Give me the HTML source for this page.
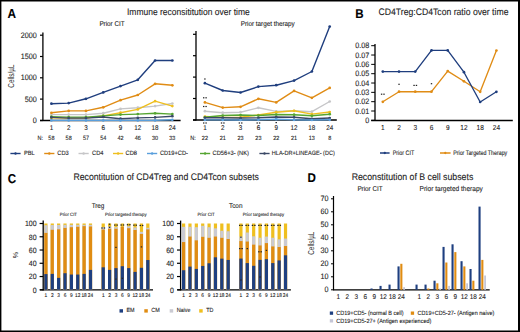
<!DOCTYPE html>
<html><head><meta charset="utf-8"><style>
html,body{margin:0;padding:0;background:#fff;width:520px;height:332px;overflow:hidden}
svg{display:block}
#wrap{}
text{font-family:"Liberation Sans", sans-serif;text-rendering:geometricPrecision}
</style></head><body><div id="wrap">
<svg width="520" height="332" viewBox="0 0 520 332">
<rect width="520" height="332" fill="#fff"/>
<rect x="0.00" y="0.00" width="520.00" height="1.50" fill="#000" />
<rect x="0.00" y="0.00" width="1.40" height="332.00" fill="#000" />
<rect x="518.00" y="0.00" width="2.00" height="332.00" fill="#000" />
<rect x="0.00" y="330.50" width="520.00" height="1.50" fill="#000" />
<text x="7.50" y="18.00" transform="translate(7.50,0) scale(0.9091,1) translate(-7.50,0)" font-size="12.98" text-anchor="start" fill="#000" stroke="#000" stroke-width="0.1" font-weight="bold" >A</text>
<text x="127.00" y="15.40" transform="translate(127.00,0) scale(0.9091,1) translate(-127.00,0)" font-size="9.35" text-anchor="start" fill="#222" stroke="#222" stroke-width="0.1" font-weight="normal" >Immune reconsititution over time</text>
<text x="112.00" y="26.00" transform="translate(112.00,0) scale(0.9091,1) translate(-112.00,0)" font-size="6.93" text-anchor="middle" fill="#222" stroke="#222" stroke-width="0.1" font-weight="normal" >Prior CIT</text>
<text x="267.70" y="26.00" transform="translate(267.70,0) scale(0.9091,1) translate(-267.70,0)" font-size="6.93" text-anchor="middle" fill="#222" stroke="#222" stroke-width="0.1" font-weight="normal" >Prior target therapy</text>
<line x1="42.90" y1="32.40" x2="42.90" y2="121.10" stroke="#000" stroke-width="1.3"/>
<line x1="40.00" y1="120.50" x2="180.60" y2="120.50" stroke="#000" stroke-width="1.3"/>
<line x1="40.00" y1="35.20" x2="42.90" y2="35.20" stroke="#000" stroke-width="1.2"/>
<text x="36.80" y="37.75" transform="translate(36.80,0) scale(0.9091,1) translate(-36.80,0)" font-size="7.92" text-anchor="end" fill="#222" stroke="#222" stroke-width="0.1" font-weight="normal" >2000</text>
<line x1="40.00" y1="56.50" x2="42.90" y2="56.50" stroke="#000" stroke-width="1.2"/>
<text x="36.80" y="59.05" transform="translate(36.80,0) scale(0.9091,1) translate(-36.80,0)" font-size="7.92" text-anchor="end" fill="#222" stroke="#222" stroke-width="0.1" font-weight="normal" >1500</text>
<line x1="40.00" y1="77.80" x2="42.90" y2="77.80" stroke="#000" stroke-width="1.2"/>
<text x="36.80" y="80.35" transform="translate(36.80,0) scale(0.9091,1) translate(-36.80,0)" font-size="7.92" text-anchor="end" fill="#222" stroke="#222" stroke-width="0.1" font-weight="normal" >1000</text>
<line x1="40.00" y1="99.10" x2="42.90" y2="99.10" stroke="#000" stroke-width="1.2"/>
<text x="36.80" y="101.65" transform="translate(36.80,0) scale(0.9091,1) translate(-36.80,0)" font-size="7.92" text-anchor="end" fill="#222" stroke="#222" stroke-width="0.1" font-weight="normal" >500</text>
<line x1="40.00" y1="120.50" x2="42.90" y2="120.50" stroke="#000" stroke-width="1.2"/>
<text x="36.80" y="123.05" transform="translate(36.80,0) scale(0.9091,1) translate(-36.80,0)" font-size="7.92" text-anchor="end" fill="#222" stroke="#222" stroke-width="0.1" font-weight="normal" >0</text>
<text transform="translate(13.9,76.1) rotate(-90) scale(0.74,1)" font-size="8.6" text-anchor="middle" fill="#222">Cells/µL</text>
<text x="51.40" y="129.70" transform="translate(51.40,0) scale(0.9091,1) translate(-51.40,0)" font-size="6.93" text-anchor="middle" fill="#222" stroke="#222" stroke-width="0.1" font-weight="normal" >1</text>
<text x="68.68" y="129.70" transform="translate(68.68,0) scale(0.9091,1) translate(-68.68,0)" font-size="6.93" text-anchor="middle" fill="#222" stroke="#222" stroke-width="0.1" font-weight="normal" >2</text>
<text x="85.96" y="129.70" transform="translate(85.96,0) scale(0.9091,1) translate(-85.96,0)" font-size="6.93" text-anchor="middle" fill="#222" stroke="#222" stroke-width="0.1" font-weight="normal" >3</text>
<text x="103.24" y="129.70" transform="translate(103.24,0) scale(0.9091,1) translate(-103.24,0)" font-size="6.93" text-anchor="middle" fill="#222" stroke="#222" stroke-width="0.1" font-weight="normal" >6</text>
<text x="120.52" y="129.70" transform="translate(120.52,0) scale(0.9091,1) translate(-120.52,0)" font-size="6.93" text-anchor="middle" fill="#222" stroke="#222" stroke-width="0.1" font-weight="normal" >9</text>
<text x="137.80" y="129.70" transform="translate(137.80,0) scale(0.9091,1) translate(-137.80,0)" font-size="6.93" text-anchor="middle" fill="#222" stroke="#222" stroke-width="0.1" font-weight="normal" >12</text>
<text x="155.08" y="129.70" transform="translate(155.08,0) scale(0.9091,1) translate(-155.08,0)" font-size="6.93" text-anchor="middle" fill="#222" stroke="#222" stroke-width="0.1" font-weight="normal" >18</text>
<text x="172.36" y="129.70" transform="translate(172.36,0) scale(0.9091,1) translate(-172.36,0)" font-size="6.93" text-anchor="middle" fill="#222" stroke="#222" stroke-width="0.1" font-weight="normal" >24</text>
<text x="43.00" y="140.30" transform="translate(43.00,0) scale(0.9091,1) translate(-43.00,0)" font-size="6.05" text-anchor="end" fill="#222" stroke="#222" stroke-width="0.1" font-weight="normal" >N:</text>
<text x="51.40" y="140.30" transform="translate(51.40,0) scale(0.9091,1) translate(-51.40,0)" font-size="6.05" text-anchor="middle" fill="#222" stroke="#222" stroke-width="0.1" font-weight="normal" >58</text>
<text x="68.68" y="140.30" transform="translate(68.68,0) scale(0.9091,1) translate(-68.68,0)" font-size="6.05" text-anchor="middle" fill="#222" stroke="#222" stroke-width="0.1" font-weight="normal" >58</text>
<text x="85.96" y="140.30" transform="translate(85.96,0) scale(0.9091,1) translate(-85.96,0)" font-size="6.05" text-anchor="middle" fill="#222" stroke="#222" stroke-width="0.1" font-weight="normal" >57</text>
<text x="103.24" y="140.30" transform="translate(103.24,0) scale(0.9091,1) translate(-103.24,0)" font-size="6.05" text-anchor="middle" fill="#222" stroke="#222" stroke-width="0.1" font-weight="normal" >54</text>
<text x="120.52" y="140.30" transform="translate(120.52,0) scale(0.9091,1) translate(-120.52,0)" font-size="6.05" text-anchor="middle" fill="#222" stroke="#222" stroke-width="0.1" font-weight="normal" >42</text>
<text x="137.80" y="140.30" transform="translate(137.80,0) scale(0.9091,1) translate(-137.80,0)" font-size="6.05" text-anchor="middle" fill="#222" stroke="#222" stroke-width="0.1" font-weight="normal" >46</text>
<text x="155.08" y="140.30" transform="translate(155.08,0) scale(0.9091,1) translate(-155.08,0)" font-size="6.05" text-anchor="middle" fill="#222" stroke="#222" stroke-width="0.1" font-weight="normal" >30</text>
<text x="172.36" y="140.30" transform="translate(172.36,0) scale(0.9091,1) translate(-172.36,0)" font-size="6.05" text-anchor="middle" fill="#222" stroke="#222" stroke-width="0.1" font-weight="normal" >33</text>
<polyline points="51.40,114.60 68.68,114.60 85.96,114.60 103.24,113.20 120.52,108.90 137.80,107.70 155.08,106.10 172.36,103.50" fill="none" stroke="#c6c6c8" stroke-width="1.4" stroke-linejoin="round"/>
<circle cx="51.40" cy="114.60" r="1.35" fill="#c6c6c8"/>
<circle cx="68.68" cy="114.60" r="1.35" fill="#c6c6c8"/>
<circle cx="85.96" cy="114.60" r="1.35" fill="#c6c6c8"/>
<circle cx="103.24" cy="113.20" r="1.35" fill="#c6c6c8"/>
<circle cx="120.52" cy="108.90" r="1.35" fill="#c6c6c8"/>
<circle cx="137.80" cy="107.70" r="1.35" fill="#c6c6c8"/>
<circle cx="155.08" cy="106.10" r="1.35" fill="#c6c6c8"/>
<circle cx="172.36" cy="103.50" r="1.35" fill="#c6c6c8"/>
<polyline points="51.40,117.90 68.68,118.10 85.96,118.00 103.24,115.90 120.52,112.70 137.80,109.40 155.08,101.20 172.36,106.10" fill="none" stroke="#efbf1f" stroke-width="1.4" stroke-linejoin="round"/>
<circle cx="51.40" cy="117.90" r="1.35" fill="#efbf1f"/>
<circle cx="68.68" cy="118.10" r="1.35" fill="#efbf1f"/>
<circle cx="85.96" cy="118.00" r="1.35" fill="#efbf1f"/>
<circle cx="103.24" cy="115.90" r="1.35" fill="#efbf1f"/>
<circle cx="120.52" cy="112.70" r="1.35" fill="#efbf1f"/>
<circle cx="137.80" cy="109.40" r="1.35" fill="#efbf1f"/>
<circle cx="155.08" cy="101.20" r="1.35" fill="#efbf1f"/>
<circle cx="172.36" cy="106.10" r="1.35" fill="#efbf1f"/>
<polyline points="51.40,116.60 68.68,117.10 85.96,117.10 103.24,115.90 120.52,114.60 137.80,114.10 155.08,113.30 172.36,114.10" fill="none" stroke="#55a531" stroke-width="1.4" stroke-linejoin="round"/>
<circle cx="51.40" cy="116.60" r="1.35" fill="#55a531"/>
<circle cx="68.68" cy="117.10" r="1.35" fill="#55a531"/>
<circle cx="85.96" cy="117.10" r="1.35" fill="#55a531"/>
<circle cx="103.24" cy="115.90" r="1.35" fill="#55a531"/>
<circle cx="120.52" cy="114.60" r="1.35" fill="#55a531"/>
<circle cx="137.80" cy="114.10" r="1.35" fill="#55a531"/>
<circle cx="155.08" cy="113.30" r="1.35" fill="#55a531"/>
<circle cx="172.36" cy="114.10" r="1.35" fill="#55a531"/>
<polyline points="51.40,117.40 68.68,118.10 85.96,118.10 103.24,117.00 120.52,118.70 137.80,117.90 155.08,117.40 172.36,116.20" fill="none" stroke="#3b4866" stroke-width="1.4" stroke-linejoin="round"/>
<circle cx="51.40" cy="117.40" r="1.35" fill="#3b4866"/>
<circle cx="68.68" cy="118.10" r="1.35" fill="#3b4866"/>
<circle cx="85.96" cy="118.10" r="1.35" fill="#3b4866"/>
<circle cx="103.24" cy="117.00" r="1.35" fill="#3b4866"/>
<circle cx="120.52" cy="118.70" r="1.35" fill="#3b4866"/>
<circle cx="137.80" cy="117.90" r="1.35" fill="#3b4866"/>
<circle cx="155.08" cy="117.40" r="1.35" fill="#3b4866"/>
<circle cx="172.36" cy="116.20" r="1.35" fill="#3b4866"/>
<polyline points="51.40,120.40 68.68,120.40 85.96,120.40 103.24,120.40 120.52,120.40 137.80,120.40 155.08,120.40 172.36,119.80" fill="none" stroke="#5a9fdc" stroke-width="1.4" stroke-linejoin="round"/>
<circle cx="51.40" cy="120.40" r="1.35" fill="#5a9fdc"/>
<circle cx="68.68" cy="120.40" r="1.35" fill="#5a9fdc"/>
<circle cx="85.96" cy="120.40" r="1.35" fill="#5a9fdc"/>
<circle cx="103.24" cy="120.40" r="1.35" fill="#5a9fdc"/>
<circle cx="120.52" cy="120.40" r="1.35" fill="#5a9fdc"/>
<circle cx="137.80" cy="120.40" r="1.35" fill="#5a9fdc"/>
<circle cx="155.08" cy="120.40" r="1.35" fill="#5a9fdc"/>
<circle cx="172.36" cy="119.80" r="1.35" fill="#5a9fdc"/>
<polyline points="51.40,112.80 68.68,110.90 85.96,110.90 103.24,107.30 120.52,100.20 137.80,95.00 155.08,83.80 172.36,85.30" fill="none" stroke="#e08c15" stroke-width="1.4" stroke-linejoin="round"/>
<circle cx="51.40" cy="112.80" r="1.35" fill="#e08c15"/>
<circle cx="68.68" cy="110.90" r="1.35" fill="#e08c15"/>
<circle cx="85.96" cy="110.90" r="1.35" fill="#e08c15"/>
<circle cx="103.24" cy="107.30" r="1.35" fill="#e08c15"/>
<circle cx="120.52" cy="100.20" r="1.35" fill="#e08c15"/>
<circle cx="137.80" cy="95.00" r="1.35" fill="#e08c15"/>
<circle cx="155.08" cy="83.80" r="1.35" fill="#e08c15"/>
<circle cx="172.36" cy="85.30" r="1.35" fill="#e08c15"/>
<polyline points="51.40,103.70 68.68,103.10 85.96,98.80 103.24,92.40 120.52,86.10 137.80,79.80 155.08,60.50 172.36,60.50" fill="none" stroke="#1f3e7e" stroke-width="1.4" stroke-linejoin="round"/>
<circle cx="51.40" cy="103.70" r="1.35" fill="#1f3e7e"/>
<circle cx="68.68" cy="103.10" r="1.35" fill="#1f3e7e"/>
<circle cx="85.96" cy="98.80" r="1.35" fill="#1f3e7e"/>
<circle cx="103.24" cy="92.40" r="1.35" fill="#1f3e7e"/>
<circle cx="120.52" cy="86.10" r="1.35" fill="#1f3e7e"/>
<circle cx="137.80" cy="79.80" r="1.35" fill="#1f3e7e"/>
<circle cx="155.08" cy="60.50" r="1.35" fill="#1f3e7e"/>
<circle cx="172.36" cy="60.50" r="1.35" fill="#1f3e7e"/>
<line x1="196.00" y1="31.10" x2="196.00" y2="120.60" stroke="#000" stroke-width="1.3"/>
<line x1="193.00" y1="120.00" x2="336.80" y2="120.00" stroke="#000" stroke-width="1.3"/>
<line x1="193.00" y1="34.30" x2="196.00" y2="34.30" stroke="#000" stroke-width="1.2"/>
<line x1="193.00" y1="55.70" x2="196.00" y2="55.70" stroke="#000" stroke-width="1.2"/>
<line x1="193.00" y1="77.10" x2="196.00" y2="77.10" stroke="#000" stroke-width="1.2"/>
<line x1="193.00" y1="98.50" x2="196.00" y2="98.50" stroke="#000" stroke-width="1.2"/>
<line x1="193.00" y1="120.00" x2="196.00" y2="120.00" stroke="#000" stroke-width="1.2"/>
<text x="204.90" y="129.70" transform="translate(204.90,0) scale(0.9091,1) translate(-204.90,0)" font-size="6.93" text-anchor="middle" fill="#222" stroke="#222" stroke-width="0.1" font-weight="normal" >1</text>
<text x="222.73" y="129.70" transform="translate(222.73,0) scale(0.9091,1) translate(-222.73,0)" font-size="6.93" text-anchor="middle" fill="#222" stroke="#222" stroke-width="0.1" font-weight="normal" >2</text>
<text x="240.56" y="129.70" transform="translate(240.56,0) scale(0.9091,1) translate(-240.56,0)" font-size="6.93" text-anchor="middle" fill="#222" stroke="#222" stroke-width="0.1" font-weight="normal" >3</text>
<text x="258.39" y="129.70" transform="translate(258.39,0) scale(0.9091,1) translate(-258.39,0)" font-size="6.93" text-anchor="middle" fill="#222" stroke="#222" stroke-width="0.1" font-weight="normal" >6</text>
<text x="276.22" y="129.70" transform="translate(276.22,0) scale(0.9091,1) translate(-276.22,0)" font-size="6.93" text-anchor="middle" fill="#222" stroke="#222" stroke-width="0.1" font-weight="normal" >9</text>
<text x="294.05" y="129.70" transform="translate(294.05,0) scale(0.9091,1) translate(-294.05,0)" font-size="6.93" text-anchor="middle" fill="#222" stroke="#222" stroke-width="0.1" font-weight="normal" >12</text>
<text x="311.88" y="129.70" transform="translate(311.88,0) scale(0.9091,1) translate(-311.88,0)" font-size="6.93" text-anchor="middle" fill="#222" stroke="#222" stroke-width="0.1" font-weight="normal" >18</text>
<text x="329.71" y="129.70" transform="translate(329.71,0) scale(0.9091,1) translate(-329.71,0)" font-size="6.93" text-anchor="middle" fill="#222" stroke="#222" stroke-width="0.1" font-weight="normal" >24</text>
<text x="195.80" y="140.30" transform="translate(195.80,0) scale(0.9091,1) translate(-195.80,0)" font-size="6.05" text-anchor="end" fill="#222" stroke="#222" stroke-width="0.1" font-weight="normal" >N:</text>
<text x="204.90" y="140.30" transform="translate(204.90,0) scale(0.9091,1) translate(-204.90,0)" font-size="6.05" text-anchor="middle" fill="#222" stroke="#222" stroke-width="0.1" font-weight="normal" >22</text>
<text x="222.73" y="140.30" transform="translate(222.73,0) scale(0.9091,1) translate(-222.73,0)" font-size="6.05" text-anchor="middle" fill="#222" stroke="#222" stroke-width="0.1" font-weight="normal" >21</text>
<text x="240.56" y="140.30" transform="translate(240.56,0) scale(0.9091,1) translate(-240.56,0)" font-size="6.05" text-anchor="middle" fill="#222" stroke="#222" stroke-width="0.1" font-weight="normal" >23</text>
<text x="258.39" y="140.30" transform="translate(258.39,0) scale(0.9091,1) translate(-258.39,0)" font-size="6.05" text-anchor="middle" fill="#222" stroke="#222" stroke-width="0.1" font-weight="normal" >23</text>
<text x="276.22" y="140.30" transform="translate(276.22,0) scale(0.9091,1) translate(-276.22,0)" font-size="6.05" text-anchor="middle" fill="#222" stroke="#222" stroke-width="0.1" font-weight="normal" >22</text>
<text x="294.05" y="140.30" transform="translate(294.05,0) scale(0.9091,1) translate(-294.05,0)" font-size="6.05" text-anchor="middle" fill="#222" stroke="#222" stroke-width="0.1" font-weight="normal" >21</text>
<text x="311.88" y="140.30" transform="translate(311.88,0) scale(0.9091,1) translate(-311.88,0)" font-size="6.05" text-anchor="middle" fill="#222" stroke="#222" stroke-width="0.1" font-weight="normal" >13</text>
<text x="329.71" y="140.30" transform="translate(329.71,0) scale(0.9091,1) translate(-329.71,0)" font-size="6.05" text-anchor="middle" fill="#222" stroke="#222" stroke-width="0.1" font-weight="normal" >8</text>
<polyline points="204.90,111.20 222.73,112.70 240.56,112.20 258.39,107.80 276.22,111.40 294.05,110.80 311.88,111.70 329.71,101.50" fill="none" stroke="#c6c6c8" stroke-width="1.4" stroke-linejoin="round"/>
<circle cx="204.90" cy="111.20" r="1.35" fill="#c6c6c8"/>
<circle cx="222.73" cy="112.70" r="1.35" fill="#c6c6c8"/>
<circle cx="240.56" cy="112.20" r="1.35" fill="#c6c6c8"/>
<circle cx="258.39" cy="107.80" r="1.35" fill="#c6c6c8"/>
<circle cx="276.22" cy="111.40" r="1.35" fill="#c6c6c8"/>
<circle cx="294.05" cy="110.80" r="1.35" fill="#c6c6c8"/>
<circle cx="311.88" cy="111.70" r="1.35" fill="#c6c6c8"/>
<circle cx="329.71" cy="101.50" r="1.35" fill="#c6c6c8"/>
<polyline points="204.90,116.50 222.73,117.40 240.56,117.30 258.39,115.00 276.22,112.20 294.05,110.80 311.88,114.10 329.71,112.00" fill="none" stroke="#efbf1f" stroke-width="1.4" stroke-linejoin="round"/>
<circle cx="204.90" cy="116.50" r="1.35" fill="#efbf1f"/>
<circle cx="222.73" cy="117.40" r="1.35" fill="#efbf1f"/>
<circle cx="240.56" cy="117.30" r="1.35" fill="#efbf1f"/>
<circle cx="258.39" cy="115.00" r="1.35" fill="#efbf1f"/>
<circle cx="276.22" cy="112.20" r="1.35" fill="#efbf1f"/>
<circle cx="294.05" cy="110.80" r="1.35" fill="#efbf1f"/>
<circle cx="311.88" cy="114.10" r="1.35" fill="#efbf1f"/>
<circle cx="329.71" cy="112.00" r="1.35" fill="#efbf1f"/>
<polyline points="204.90,117.30 222.73,115.50 240.56,115.00 258.39,115.50 276.22,114.50 294.05,114.70 311.88,115.80 329.71,114.20" fill="none" stroke="#55a531" stroke-width="1.4" stroke-linejoin="round"/>
<circle cx="204.90" cy="117.30" r="1.35" fill="#55a531"/>
<circle cx="222.73" cy="115.50" r="1.35" fill="#55a531"/>
<circle cx="240.56" cy="115.00" r="1.35" fill="#55a531"/>
<circle cx="258.39" cy="115.50" r="1.35" fill="#55a531"/>
<circle cx="276.22" cy="114.50" r="1.35" fill="#55a531"/>
<circle cx="294.05" cy="114.70" r="1.35" fill="#55a531"/>
<circle cx="311.88" cy="115.80" r="1.35" fill="#55a531"/>
<circle cx="329.71" cy="114.20" r="1.35" fill="#55a531"/>
<polyline points="204.90,117.80 222.73,117.80 240.56,118.00 258.39,117.80 276.22,117.00 294.05,117.30 311.88,118.80 329.71,118.00" fill="none" stroke="#3b4866" stroke-width="1.4" stroke-linejoin="round"/>
<circle cx="204.90" cy="117.80" r="1.35" fill="#3b4866"/>
<circle cx="222.73" cy="117.80" r="1.35" fill="#3b4866"/>
<circle cx="240.56" cy="118.00" r="1.35" fill="#3b4866"/>
<circle cx="258.39" cy="117.80" r="1.35" fill="#3b4866"/>
<circle cx="276.22" cy="117.00" r="1.35" fill="#3b4866"/>
<circle cx="294.05" cy="117.30" r="1.35" fill="#3b4866"/>
<circle cx="311.88" cy="118.80" r="1.35" fill="#3b4866"/>
<circle cx="329.71" cy="118.00" r="1.35" fill="#3b4866"/>
<polyline points="204.90,119.90 222.73,119.90 240.56,120.00 258.39,119.80 276.22,119.20 294.05,119.80 311.88,120.00 329.71,119.80" fill="none" stroke="#5a9fdc" stroke-width="1.4" stroke-linejoin="round"/>
<circle cx="204.90" cy="119.90" r="1.35" fill="#5a9fdc"/>
<circle cx="222.73" cy="119.90" r="1.35" fill="#5a9fdc"/>
<circle cx="240.56" cy="120.00" r="1.35" fill="#5a9fdc"/>
<circle cx="258.39" cy="119.80" r="1.35" fill="#5a9fdc"/>
<circle cx="276.22" cy="119.20" r="1.35" fill="#5a9fdc"/>
<circle cx="294.05" cy="119.80" r="1.35" fill="#5a9fdc"/>
<circle cx="311.88" cy="120.00" r="1.35" fill="#5a9fdc"/>
<circle cx="329.71" cy="119.80" r="1.35" fill="#5a9fdc"/>
<polyline points="204.90,102.40 222.73,107.60 240.56,106.80 258.39,98.80 276.22,102.40 294.05,90.90 311.88,97.80 329.71,87.90" fill="none" stroke="#e08c15" stroke-width="1.4" stroke-linejoin="round"/>
<circle cx="204.90" cy="102.40" r="1.35" fill="#e08c15"/>
<circle cx="222.73" cy="107.60" r="1.35" fill="#e08c15"/>
<circle cx="240.56" cy="106.80" r="1.35" fill="#e08c15"/>
<circle cx="258.39" cy="98.80" r="1.35" fill="#e08c15"/>
<circle cx="276.22" cy="102.40" r="1.35" fill="#e08c15"/>
<circle cx="294.05" cy="90.90" r="1.35" fill="#e08c15"/>
<circle cx="311.88" cy="97.80" r="1.35" fill="#e08c15"/>
<circle cx="329.71" cy="87.90" r="1.35" fill="#e08c15"/>
<polyline points="204.90,83.20 222.73,90.50 240.56,92.50 258.39,86.60 276.22,85.20 294.05,80.60 311.88,71.50 329.71,26.60" fill="none" stroke="#1f3e7e" stroke-width="1.4" stroke-linejoin="round"/>
<circle cx="204.90" cy="83.20" r="1.35" fill="#1f3e7e"/>
<circle cx="222.73" cy="90.50" r="1.35" fill="#1f3e7e"/>
<circle cx="240.56" cy="92.50" r="1.35" fill="#1f3e7e"/>
<circle cx="258.39" cy="86.60" r="1.35" fill="#1f3e7e"/>
<circle cx="276.22" cy="85.20" r="1.35" fill="#1f3e7e"/>
<circle cx="294.05" cy="80.60" r="1.35" fill="#1f3e7e"/>
<circle cx="311.88" cy="71.50" r="1.35" fill="#1f3e7e"/>
<circle cx="329.71" cy="26.60" r="1.35" fill="#1f3e7e"/>
<rect x="204.20" y="78.40" width="1.40" height="1.20" fill="#222" />
<rect x="203.00" y="97.20" width="1.40" height="1.20" fill="#222" />
<rect x="205.40" y="97.20" width="1.40" height="1.20" fill="#222" />
<rect x="203.00" y="105.90" width="1.40" height="1.20" fill="#222" />
<rect x="205.40" y="105.90" width="1.40" height="1.20" fill="#222" />
<rect x="203.00" y="122.40" width="1.40" height="1.20" fill="#222" />
<rect x="205.40" y="122.40" width="1.40" height="1.20" fill="#222" />
<rect x="220.83" y="122.40" width="1.40" height="1.20" fill="#222" />
<rect x="223.23" y="122.40" width="1.40" height="1.20" fill="#222" />
<rect x="238.66" y="122.40" width="1.40" height="1.20" fill="#222" />
<rect x="241.06" y="122.40" width="1.40" height="1.20" fill="#222" />
<rect x="256.49" y="122.40" width="1.40" height="1.20" fill="#222" />
<rect x="258.89" y="122.40" width="1.40" height="1.20" fill="#222" />
<rect x="275.52" y="122.00" width="1.40" height="1.20" fill="#222" />
<line x1="10.40" y1="153.50" x2="20.60" y2="153.50" stroke="#1f3e7e" stroke-width="1.4"/>
<circle cx="15.50" cy="153.5" r="1.2" fill="#1f3e7e"/>
<text x="24.00" y="154.60" transform="translate(24.00,0) scale(0.9091,1) translate(-24.00,0)" font-size="6.27" text-anchor="start" fill="#222" stroke="#222" stroke-width="0.1" font-weight="normal" >PBL</text>
<line x1="44.20" y1="153.50" x2="54.40" y2="153.50" stroke="#e08c15" stroke-width="1.4"/>
<circle cx="49.30" cy="153.5" r="1.2" fill="#e08c15"/>
<text x="57.30" y="154.60" transform="translate(57.30,0) scale(0.9091,1) translate(-57.30,0)" font-size="6.27" text-anchor="start" fill="#222" stroke="#222" stroke-width="0.1" font-weight="normal" >CD3</text>
<line x1="78.50" y1="153.50" x2="88.70" y2="153.50" stroke="#c6c6c8" stroke-width="1.4"/>
<circle cx="83.60" cy="153.5" r="1.2" fill="#c6c6c8"/>
<text x="92.10" y="154.60" transform="translate(92.10,0) scale(0.9091,1) translate(-92.10,0)" font-size="6.27" text-anchor="start" fill="#222" stroke="#222" stroke-width="0.1" font-weight="normal" >CD4</text>
<line x1="113.00" y1="153.50" x2="123.20" y2="153.50" stroke="#efbf1f" stroke-width="1.4"/>
<circle cx="118.10" cy="153.5" r="1.2" fill="#efbf1f"/>
<text x="125.60" y="154.60" transform="translate(125.60,0) scale(0.9091,1) translate(-125.60,0)" font-size="6.27" text-anchor="start" fill="#222" stroke="#222" stroke-width="0.1" font-weight="normal" >CD8</text>
<line x1="147.00" y1="153.50" x2="157.20" y2="153.50" stroke="#5a9fdc" stroke-width="1.4"/>
<circle cx="152.10" cy="153.5" r="1.2" fill="#5a9fdc"/>
<text x="159.90" y="154.60" transform="translate(159.90,0) scale(0.9091,1) translate(-159.90,0)" font-size="6.27" text-anchor="start" fill="#222" stroke="#222" stroke-width="0.1" font-weight="normal" >CD19+CD-</text>
<line x1="200.00" y1="153.50" x2="210.20" y2="153.50" stroke="#55a531" stroke-width="1.4"/>
<circle cx="205.10" cy="153.5" r="1.2" fill="#55a531"/>
<text x="212.60" y="154.60" transform="translate(212.60,0) scale(0.9091,1) translate(-212.60,0)" font-size="6.27" text-anchor="start" fill="#222" stroke="#222" stroke-width="0.1" font-weight="normal" >CD56+3- (NK)</text>
<line x1="259.40" y1="153.50" x2="269.60" y2="153.50" stroke="#3b4866" stroke-width="1.4"/>
<circle cx="264.50" cy="153.5" r="1.2" fill="#3b4866"/>
<text x="271.80" y="154.60" transform="translate(271.80,0) scale(0.8852,1) translate(-271.80,0)" font-size="6.27" text-anchor="start" fill="#222" stroke="#222" stroke-width="0.1" font-weight="normal" >HLA-DR+LINEAGE- (DC)</text>
<text x="355.20" y="17.90" transform="translate(355.20,0) scale(0.9091,1) translate(-355.20,0)" font-size="12.76" text-anchor="start" fill="#000" stroke="#000" stroke-width="0.1" font-weight="bold" >B</text>
<text x="378.50" y="15.40" transform="translate(378.50,0) scale(0.9091,1) translate(-378.50,0)" font-size="9.53" text-anchor="start" fill="#222" stroke="#222" stroke-width="0.1" font-weight="normal" >CD4Treg:CD4Tcon ratio over time</text>
<line x1="375.00" y1="44.00" x2="375.00" y2="121.10" stroke="#000" stroke-width="1.3"/>
<line x1="371.20" y1="120.50" x2="512.80" y2="120.50" stroke="#000" stroke-width="1.3"/>
<line x1="371.20" y1="45.70" x2="375.00" y2="45.70" stroke="#000" stroke-width="1.0"/>
<text x="369.20" y="48.25" transform="translate(369.20,0) scale(0.9091,1) translate(-369.20,0)" font-size="7.92" text-anchor="end" fill="#222" stroke="#222" stroke-width="0.1" font-weight="normal" >0.08</text>
<line x1="371.20" y1="55.03" x2="375.00" y2="55.03" stroke="#000" stroke-width="1.0"/>
<text x="369.20" y="57.58" transform="translate(369.20,0) scale(0.9091,1) translate(-369.20,0)" font-size="7.92" text-anchor="end" fill="#222" stroke="#222" stroke-width="0.1" font-weight="normal" >0.07</text>
<line x1="371.20" y1="64.36" x2="375.00" y2="64.36" stroke="#000" stroke-width="1.0"/>
<text x="369.20" y="66.91" transform="translate(369.20,0) scale(0.9091,1) translate(-369.20,0)" font-size="7.92" text-anchor="end" fill="#222" stroke="#222" stroke-width="0.1" font-weight="normal" >0.06</text>
<line x1="371.20" y1="73.69" x2="375.00" y2="73.69" stroke="#000" stroke-width="1.0"/>
<text x="369.20" y="76.24" transform="translate(369.20,0) scale(0.9091,1) translate(-369.20,0)" font-size="7.92" text-anchor="end" fill="#222" stroke="#222" stroke-width="0.1" font-weight="normal" >0.05</text>
<line x1="371.20" y1="83.02" x2="375.00" y2="83.02" stroke="#000" stroke-width="1.0"/>
<text x="369.20" y="85.57" transform="translate(369.20,0) scale(0.9091,1) translate(-369.20,0)" font-size="7.92" text-anchor="end" fill="#222" stroke="#222" stroke-width="0.1" font-weight="normal" >0.04</text>
<line x1="371.20" y1="92.35" x2="375.00" y2="92.35" stroke="#000" stroke-width="1.0"/>
<text x="369.20" y="94.90" transform="translate(369.20,0) scale(0.9091,1) translate(-369.20,0)" font-size="7.92" text-anchor="end" fill="#222" stroke="#222" stroke-width="0.1" font-weight="normal" >0.03</text>
<line x1="371.20" y1="101.68" x2="375.00" y2="101.68" stroke="#000" stroke-width="1.0"/>
<text x="369.20" y="104.23" transform="translate(369.20,0) scale(0.9091,1) translate(-369.20,0)" font-size="7.92" text-anchor="end" fill="#222" stroke="#222" stroke-width="0.1" font-weight="normal" >0.02</text>
<line x1="371.20" y1="111.01" x2="375.00" y2="111.01" stroke="#000" stroke-width="1.0"/>
<text x="369.20" y="113.56" transform="translate(369.20,0) scale(0.9091,1) translate(-369.20,0)" font-size="7.92" text-anchor="end" fill="#222" stroke="#222" stroke-width="0.1" font-weight="normal" >0.01</text>
<line x1="371.20" y1="120.34" x2="375.00" y2="120.34" stroke="#000" stroke-width="1.0"/>
<text x="369.20" y="122.89" transform="translate(369.20,0) scale(0.9091,1) translate(-369.20,0)" font-size="7.92" text-anchor="end" fill="#222" stroke="#222" stroke-width="0.1" font-weight="normal" >0</text>
<text x="382.80" y="129.80" transform="translate(382.80,0) scale(0.9091,1) translate(-382.80,0)" font-size="7.15" text-anchor="middle" fill="#222" stroke="#222" stroke-width="0.1" font-weight="normal" >1</text>
<text x="399.03" y="129.80" transform="translate(399.03,0) scale(0.9091,1) translate(-399.03,0)" font-size="7.15" text-anchor="middle" fill="#222" stroke="#222" stroke-width="0.1" font-weight="normal" >2</text>
<text x="415.26" y="129.80" transform="translate(415.26,0) scale(0.9091,1) translate(-415.26,0)" font-size="7.15" text-anchor="middle" fill="#222" stroke="#222" stroke-width="0.1" font-weight="normal" >3</text>
<text x="431.49" y="129.80" transform="translate(431.49,0) scale(0.9091,1) translate(-431.49,0)" font-size="7.15" text-anchor="middle" fill="#222" stroke="#222" stroke-width="0.1" font-weight="normal" >6</text>
<text x="447.72" y="129.80" transform="translate(447.72,0) scale(0.9091,1) translate(-447.72,0)" font-size="7.15" text-anchor="middle" fill="#222" stroke="#222" stroke-width="0.1" font-weight="normal" >9</text>
<text x="463.95" y="129.80" transform="translate(463.95,0) scale(0.9091,1) translate(-463.95,0)" font-size="7.15" text-anchor="middle" fill="#222" stroke="#222" stroke-width="0.1" font-weight="normal" >12</text>
<text x="480.18" y="129.80" transform="translate(480.18,0) scale(0.9091,1) translate(-480.18,0)" font-size="7.15" text-anchor="middle" fill="#222" stroke="#222" stroke-width="0.1" font-weight="normal" >18</text>
<text x="496.41" y="129.80" transform="translate(496.41,0) scale(0.9091,1) translate(-496.41,0)" font-size="7.15" text-anchor="middle" fill="#222" stroke="#222" stroke-width="0.1" font-weight="normal" >24</text>
<polyline points="382.80,101.80 399.03,91.70 415.26,91.70 431.49,91.70 447.72,71.10 463.95,81.30 480.18,91.80 496.41,50.50" fill="none" stroke="#e08c15" stroke-width="1.35" stroke-linejoin="round"/>
<circle cx="382.80" cy="101.80" r="1.35" fill="#e08c15"/>
<circle cx="399.03" cy="91.70" r="1.35" fill="#e08c15"/>
<circle cx="415.26" cy="91.70" r="1.35" fill="#e08c15"/>
<circle cx="431.49" cy="91.70" r="1.35" fill="#e08c15"/>
<circle cx="447.72" cy="71.10" r="1.35" fill="#e08c15"/>
<circle cx="463.95" cy="81.30" r="1.35" fill="#e08c15"/>
<circle cx="480.18" cy="91.80" r="1.35" fill="#e08c15"/>
<circle cx="496.41" cy="50.50" r="1.35" fill="#e08c15"/>
<polyline points="382.80,71.60 399.03,71.60 415.26,71.60 431.49,50.40 447.72,50.40 463.95,72.20 480.18,102.00 496.41,91.80" fill="none" stroke="#1f3e7e" stroke-width="1.35" stroke-linejoin="round"/>
<circle cx="382.80" cy="71.60" r="1.35" fill="#1f3e7e"/>
<circle cx="399.03" cy="71.60" r="1.35" fill="#1f3e7e"/>
<circle cx="415.26" cy="71.60" r="1.35" fill="#1f3e7e"/>
<circle cx="431.49" cy="50.40" r="1.35" fill="#1f3e7e"/>
<circle cx="447.72" cy="50.40" r="1.35" fill="#1f3e7e"/>
<circle cx="463.95" cy="72.20" r="1.35" fill="#1f3e7e"/>
<circle cx="480.18" cy="102.00" r="1.35" fill="#1f3e7e"/>
<circle cx="496.41" cy="91.80" r="1.35" fill="#1f3e7e"/>
<rect x="380.90" y="93.60" width="1.40" height="1.20" fill="#222" />
<rect x="383.30" y="93.60" width="1.40" height="1.20" fill="#222" />
<rect x="398.33" y="83.70" width="1.40" height="1.20" fill="#222" />
<rect x="413.36" y="84.80" width="1.40" height="1.20" fill="#222" />
<rect x="415.76" y="84.80" width="1.40" height="1.20" fill="#222" />
<rect x="430.79" y="83.10" width="1.40" height="1.20" fill="#222" />
<line x1="380.00" y1="153.00" x2="389.60" y2="153.00" stroke="#1f3e7e" stroke-width="1.5"/>
<circle cx="384.8" cy="153" r="1.15" fill="#1f3e7e"/>
<text x="392.70" y="155.10" transform="translate(392.70,0) scale(0.8197,1) translate(-392.70,0)" font-size="6.59" text-anchor="start" fill="#222" stroke="#222" stroke-width="0.1" font-weight="normal" >Prior CIT</text>
<line x1="440.00" y1="153.00" x2="450.60" y2="153.00" stroke="#e08c15" stroke-width="1.5"/>
<circle cx="445.3" cy="153" r="1.15" fill="#e08c15"/>
<text x="453.20" y="155.10" transform="translate(453.20,0) scale(0.8197,1) translate(-453.20,0)" font-size="6.47" text-anchor="start" fill="#222" stroke="#222" stroke-width="0.1" font-weight="normal" >Prior Targeted Therapy</text>
<text x="7.80" y="183.00" transform="translate(7.80,0) scale(0.9091,1) translate(-7.80,0)" font-size="12.76" text-anchor="start" fill="#000" stroke="#000" stroke-width="0.1" font-weight="bold" >C</text>
<text x="73.40" y="180.10" transform="translate(73.40,0) scale(0.9091,1) translate(-73.40,0)" font-size="9.59" text-anchor="start" fill="#222" stroke="#222" stroke-width="0.1" font-weight="normal" >Recontitution of CD4Treg and CD4Tcon subsets</text>
<text x="98.00" y="207.70" transform="translate(98.00,0) scale(0.9091,1) translate(-98.00,0)" font-size="6.93" text-anchor="middle" fill="#222" stroke="#222" stroke-width="0.1" font-weight="normal" >Treg</text>
<text x="235.70" y="207.70" transform="translate(235.70,0) scale(0.9091,1) translate(-235.70,0)" font-size="7.04" text-anchor="middle" fill="#222" stroke="#222" stroke-width="0.1" font-weight="normal" >Tcon</text>
<text x="68.40" y="216.40" transform="translate(68.40,0) scale(0.9091,1) translate(-68.40,0)" font-size="4.73" text-anchor="middle" fill="#222" stroke="#222" stroke-width="0.1" font-weight="normal" >Prior CIT</text>
<text x="125.80" y="216.40" transform="translate(125.80,0) scale(0.9091,1) translate(-125.80,0)" font-size="4.73" text-anchor="middle" fill="#222" stroke="#222" stroke-width="0.1" font-weight="normal" >Prior targeted therapy</text>
<text x="206.00" y="216.40" transform="translate(206.00,0) scale(0.9091,1) translate(-206.00,0)" font-size="4.73" text-anchor="middle" fill="#222" stroke="#222" stroke-width="0.1" font-weight="normal" >Prior CIT</text>
<text x="263.50" y="216.40" transform="translate(263.50,0) scale(0.9091,1) translate(-263.50,0)" font-size="4.73" text-anchor="middle" fill="#222" stroke="#222" stroke-width="0.1" font-weight="normal" >Prior targeted therapy</text>
<line x1="43.20" y1="220.60" x2="43.20" y2="290.40" stroke="#000" stroke-width="1.3"/>
<line x1="39.90" y1="289.80" x2="153.00" y2="289.80" stroke="#000" stroke-width="1.3"/>
<line x1="39.60" y1="289.80" x2="43.20" y2="289.80" stroke="#000" stroke-width="1.2"/>
<text x="36.60" y="292.55" transform="translate(36.60,0) scale(0.9091,1) translate(-36.60,0)" font-size="7.70" text-anchor="end" fill="#222" stroke="#222" stroke-width="0.1" font-weight="normal" >0</text>
<line x1="39.60" y1="276.54" x2="43.20" y2="276.54" stroke="#000" stroke-width="1.2"/>
<text x="36.60" y="279.29" transform="translate(36.60,0) scale(0.9091,1) translate(-36.60,0)" font-size="7.70" text-anchor="end" fill="#222" stroke="#222" stroke-width="0.1" font-weight="normal" >20</text>
<line x1="39.60" y1="263.28" x2="43.20" y2="263.28" stroke="#000" stroke-width="1.2"/>
<text x="36.60" y="266.03" transform="translate(36.60,0) scale(0.9091,1) translate(-36.60,0)" font-size="7.70" text-anchor="end" fill="#222" stroke="#222" stroke-width="0.1" font-weight="normal" >40</text>
<line x1="39.60" y1="250.02" x2="43.20" y2="250.02" stroke="#000" stroke-width="1.2"/>
<text x="36.60" y="252.77" transform="translate(36.60,0) scale(0.9091,1) translate(-36.60,0)" font-size="7.70" text-anchor="end" fill="#222" stroke="#222" stroke-width="0.1" font-weight="normal" >60</text>
<line x1="39.60" y1="236.76" x2="43.20" y2="236.76" stroke="#000" stroke-width="1.2"/>
<text x="36.60" y="239.51" transform="translate(36.60,0) scale(0.9091,1) translate(-36.60,0)" font-size="7.70" text-anchor="end" fill="#222" stroke="#222" stroke-width="0.1" font-weight="normal" >80</text>
<line x1="39.60" y1="223.50" x2="43.20" y2="223.50" stroke="#000" stroke-width="1.2"/>
<text x="36.60" y="226.25" transform="translate(36.60,0) scale(0.9091,1) translate(-36.60,0)" font-size="7.70" text-anchor="end" fill="#222" stroke="#222" stroke-width="0.1" font-weight="normal" >100</text>
<rect x="44.30" y="223.50" width="3.20" height="66.30" fill="#efbf1f" />
<rect x="44.30" y="225.22" width="3.20" height="64.58" fill="#cacad2" />
<rect x="44.30" y="232.91" width="3.20" height="56.89" fill="#e08c12" />
<rect x="44.30" y="274.09" width="3.20" height="15.71" fill="#1e3f80" />
<rect x="50.67" y="223.50" width="3.20" height="66.30" fill="#efbf1f" />
<rect x="50.67" y="225.02" width="3.20" height="64.78" fill="#cacad2" />
<rect x="50.67" y="229.80" width="3.20" height="60.00" fill="#e08c12" />
<rect x="50.67" y="273.89" width="3.20" height="15.91" fill="#1e3f80" />
<rect x="57.04" y="223.50" width="3.20" height="66.30" fill="#efbf1f" />
<rect x="57.04" y="224.96" width="3.20" height="64.84" fill="#cacad2" />
<rect x="57.04" y="229.33" width="3.20" height="60.47" fill="#e08c12" />
<rect x="57.04" y="277.87" width="3.20" height="11.93" fill="#1e3f80" />
<rect x="63.41" y="223.50" width="3.20" height="66.30" fill="#efbf1f" />
<rect x="63.41" y="224.83" width="3.20" height="64.97" fill="#cacad2" />
<rect x="63.41" y="227.94" width="3.20" height="61.86" fill="#e08c12" />
<rect x="63.41" y="273.23" width="3.20" height="16.57" fill="#1e3f80" />
<rect x="69.78" y="223.50" width="3.20" height="66.30" fill="#efbf1f" />
<rect x="69.78" y="224.83" width="3.20" height="64.97" fill="#cacad2" />
<rect x="69.78" y="227.21" width="3.20" height="62.59" fill="#e08c12" />
<rect x="69.78" y="274.55" width="3.20" height="15.25" fill="#1e3f80" />
<rect x="76.15" y="223.50" width="3.20" height="66.30" fill="#efbf1f" />
<rect x="76.15" y="224.83" width="3.20" height="64.97" fill="#cacad2" />
<rect x="76.15" y="226.81" width="3.20" height="62.99" fill="#e08c12" />
<rect x="76.15" y="274.55" width="3.20" height="15.25" fill="#1e3f80" />
<rect x="82.52" y="223.50" width="3.20" height="66.30" fill="#efbf1f" />
<rect x="82.52" y="224.83" width="3.20" height="64.97" fill="#cacad2" />
<rect x="82.52" y="226.15" width="3.20" height="63.65" fill="#e08c12" />
<rect x="82.52" y="273.89" width="3.20" height="15.91" fill="#1e3f80" />
<rect x="88.89" y="223.50" width="3.20" height="66.30" fill="#efbf1f" />
<rect x="88.89" y="224.83" width="3.20" height="64.97" fill="#cacad2" />
<rect x="88.89" y="226.48" width="3.20" height="63.32" fill="#e08c12" />
<rect x="88.89" y="269.91" width="3.20" height="19.89" fill="#1e3f80" />
<rect x="101.63" y="223.50" width="3.20" height="66.30" fill="#efbf1f" />
<rect x="101.63" y="227.15" width="3.20" height="62.65" fill="#cacad2" />
<rect x="101.63" y="229.53" width="3.20" height="60.27" fill="#e08c12" />
<rect x="101.63" y="267.32" width="3.20" height="22.48" fill="#1e3f80" />
<rect x="108.00" y="223.50" width="3.20" height="66.30" fill="#efbf1f" />
<rect x="108.00" y="226.62" width="3.20" height="63.18" fill="#cacad2" />
<rect x="108.00" y="228.74" width="3.20" height="61.06" fill="#e08c12" />
<rect x="108.00" y="269.91" width="3.20" height="19.89" fill="#1e3f80" />
<rect x="114.37" y="223.50" width="3.20" height="66.30" fill="#efbf1f" />
<rect x="114.37" y="227.15" width="3.20" height="62.65" fill="#cacad2" />
<rect x="114.37" y="228.74" width="3.20" height="61.06" fill="#e08c12" />
<rect x="114.37" y="268.12" width="3.20" height="21.68" fill="#1e3f80" />
<rect x="120.74" y="223.50" width="3.20" height="66.30" fill="#efbf1f" />
<rect x="120.74" y="226.81" width="3.20" height="62.99" fill="#cacad2" />
<rect x="120.74" y="226.81" width="3.20" height="62.99" fill="#e08c12" />
<rect x="120.74" y="266.20" width="3.20" height="23.60" fill="#1e3f80" />
<rect x="127.11" y="223.50" width="3.20" height="66.30" fill="#efbf1f" />
<rect x="127.11" y="226.15" width="3.20" height="63.65" fill="#cacad2" />
<rect x="127.11" y="228.21" width="3.20" height="61.59" fill="#e08c12" />
<rect x="127.11" y="268.12" width="3.20" height="21.68" fill="#1e3f80" />
<rect x="133.48" y="223.50" width="3.20" height="66.30" fill="#efbf1f" />
<rect x="133.48" y="227.41" width="3.20" height="62.39" fill="#cacad2" />
<rect x="133.48" y="230.00" width="3.20" height="59.80" fill="#e08c12" />
<rect x="133.48" y="271.90" width="3.20" height="17.90" fill="#1e3f80" />
<rect x="139.85" y="223.50" width="3.20" height="66.30" fill="#efbf1f" />
<rect x="139.85" y="231.79" width="3.20" height="58.01" fill="#cacad2" />
<rect x="139.85" y="233.91" width="3.20" height="55.89" fill="#e08c12" />
<rect x="139.85" y="267.79" width="3.20" height="22.01" fill="#1e3f80" />
<rect x="146.22" y="223.50" width="3.20" height="66.30" fill="#efbf1f" />
<rect x="146.22" y="227.81" width="3.20" height="61.99" fill="#cacad2" />
<rect x="146.22" y="229.40" width="3.20" height="60.40" fill="#e08c12" />
<rect x="146.22" y="260.03" width="3.20" height="29.77" fill="#1e3f80" />
<text x="45.90" y="297.00" transform="translate(45.90,0) scale(0.9091,1) translate(-45.90,0)" font-size="5.28" text-anchor="middle" fill="#222" stroke="#222" stroke-width="0.1" font-weight="normal" >1</text>
<text x="52.27" y="297.00" transform="translate(52.27,0) scale(0.9091,1) translate(-52.27,0)" font-size="5.28" text-anchor="middle" fill="#222" stroke="#222" stroke-width="0.1" font-weight="normal" >2</text>
<text x="58.64" y="297.00" transform="translate(58.64,0) scale(0.9091,1) translate(-58.64,0)" font-size="5.28" text-anchor="middle" fill="#222" stroke="#222" stroke-width="0.1" font-weight="normal" >3</text>
<text x="65.01" y="297.00" transform="translate(65.01,0) scale(0.9091,1) translate(-65.01,0)" font-size="5.28" text-anchor="middle" fill="#222" stroke="#222" stroke-width="0.1" font-weight="normal" >6</text>
<text x="71.38" y="297.00" transform="translate(71.38,0) scale(0.9091,1) translate(-71.38,0)" font-size="5.28" text-anchor="middle" fill="#222" stroke="#222" stroke-width="0.1" font-weight="normal" >9</text>
<text x="77.75" y="297.00" transform="translate(77.75,0) scale(0.9091,1) translate(-77.75,0)" font-size="5.28" text-anchor="middle" fill="#222" stroke="#222" stroke-width="0.1" font-weight="normal" >12</text>
<text x="84.12" y="297.00" transform="translate(84.12,0) scale(0.9091,1) translate(-84.12,0)" font-size="5.28" text-anchor="middle" fill="#222" stroke="#222" stroke-width="0.1" font-weight="normal" >18</text>
<text x="90.49" y="297.00" transform="translate(90.49,0) scale(0.9091,1) translate(-90.49,0)" font-size="5.28" text-anchor="middle" fill="#222" stroke="#222" stroke-width="0.1" font-weight="normal" >24</text>
<text x="103.23" y="297.00" transform="translate(103.23,0) scale(0.9091,1) translate(-103.23,0)" font-size="5.28" text-anchor="middle" fill="#222" stroke="#222" stroke-width="0.1" font-weight="normal" >1</text>
<text x="109.60" y="297.00" transform="translate(109.60,0) scale(0.9091,1) translate(-109.60,0)" font-size="5.28" text-anchor="middle" fill="#222" stroke="#222" stroke-width="0.1" font-weight="normal" >2</text>
<text x="115.97" y="297.00" transform="translate(115.97,0) scale(0.9091,1) translate(-115.97,0)" font-size="5.28" text-anchor="middle" fill="#222" stroke="#222" stroke-width="0.1" font-weight="normal" >3</text>
<text x="122.34" y="297.00" transform="translate(122.34,0) scale(0.9091,1) translate(-122.34,0)" font-size="5.28" text-anchor="middle" fill="#222" stroke="#222" stroke-width="0.1" font-weight="normal" >6</text>
<text x="128.71" y="297.00" transform="translate(128.71,0) scale(0.9091,1) translate(-128.71,0)" font-size="5.28" text-anchor="middle" fill="#222" stroke="#222" stroke-width="0.1" font-weight="normal" >9</text>
<text x="135.08" y="297.00" transform="translate(135.08,0) scale(0.9091,1) translate(-135.08,0)" font-size="5.28" text-anchor="middle" fill="#222" stroke="#222" stroke-width="0.1" font-weight="normal" >12</text>
<text x="141.45" y="297.00" transform="translate(141.45,0) scale(0.9091,1) translate(-141.45,0)" font-size="5.28" text-anchor="middle" fill="#222" stroke="#222" stroke-width="0.1" font-weight="normal" >18</text>
<text x="147.82" y="297.00" transform="translate(147.82,0) scale(0.9091,1) translate(-147.82,0)" font-size="5.28" text-anchor="middle" fill="#222" stroke="#222" stroke-width="0.1" font-weight="normal" >24</text>
<line x1="180.60" y1="220.60" x2="180.60" y2="290.40" stroke="#000" stroke-width="1.3"/>
<line x1="177.30" y1="289.80" x2="290.90" y2="289.80" stroke="#000" stroke-width="1.3"/>
<line x1="177.00" y1="289.80" x2="180.60" y2="289.80" stroke="#000" stroke-width="1.2"/>
<text x="174.00" y="292.55" transform="translate(174.00,0) scale(0.9091,1) translate(-174.00,0)" font-size="7.70" text-anchor="end" fill="#222" stroke="#222" stroke-width="0.1" font-weight="normal" >0</text>
<line x1="177.00" y1="276.54" x2="180.60" y2="276.54" stroke="#000" stroke-width="1.2"/>
<text x="174.00" y="279.29" transform="translate(174.00,0) scale(0.9091,1) translate(-174.00,0)" font-size="7.70" text-anchor="end" fill="#222" stroke="#222" stroke-width="0.1" font-weight="normal" >20</text>
<line x1="177.00" y1="263.28" x2="180.60" y2="263.28" stroke="#000" stroke-width="1.2"/>
<text x="174.00" y="266.03" transform="translate(174.00,0) scale(0.9091,1) translate(-174.00,0)" font-size="7.70" text-anchor="end" fill="#222" stroke="#222" stroke-width="0.1" font-weight="normal" >40</text>
<line x1="177.00" y1="250.02" x2="180.60" y2="250.02" stroke="#000" stroke-width="1.2"/>
<text x="174.00" y="252.77" transform="translate(174.00,0) scale(0.9091,1) translate(-174.00,0)" font-size="7.70" text-anchor="end" fill="#222" stroke="#222" stroke-width="0.1" font-weight="normal" >60</text>
<line x1="177.00" y1="236.76" x2="180.60" y2="236.76" stroke="#000" stroke-width="1.2"/>
<text x="174.00" y="239.51" transform="translate(174.00,0) scale(0.9091,1) translate(-174.00,0)" font-size="7.70" text-anchor="end" fill="#222" stroke="#222" stroke-width="0.1" font-weight="normal" >80</text>
<line x1="177.00" y1="223.50" x2="180.60" y2="223.50" stroke="#000" stroke-width="1.2"/>
<text x="174.00" y="226.25" transform="translate(174.00,0) scale(0.9091,1) translate(-174.00,0)" font-size="7.70" text-anchor="end" fill="#222" stroke="#222" stroke-width="0.1" font-weight="normal" >100</text>
<rect x="182.00" y="223.50" width="3.20" height="66.30" fill="#efbf1f" />
<rect x="182.00" y="226.81" width="3.20" height="62.99" fill="#cacad2" />
<rect x="182.00" y="242.06" width="3.20" height="47.74" fill="#e08c12" />
<rect x="182.00" y="270.24" width="3.20" height="19.56" fill="#1e3f80" />
<rect x="188.37" y="223.50" width="3.20" height="66.30" fill="#efbf1f" />
<rect x="188.37" y="226.81" width="3.20" height="62.99" fill="#cacad2" />
<rect x="188.37" y="236.56" width="3.20" height="53.24" fill="#e08c12" />
<rect x="188.37" y="266.60" width="3.20" height="23.20" fill="#1e3f80" />
<rect x="194.74" y="223.50" width="3.20" height="66.30" fill="#efbf1f" />
<rect x="194.74" y="227.21" width="3.20" height="62.59" fill="#cacad2" />
<rect x="194.74" y="240.34" width="3.20" height="49.46" fill="#e08c12" />
<rect x="194.74" y="268.92" width="3.20" height="20.88" fill="#1e3f80" />
<rect x="201.11" y="223.50" width="3.20" height="66.30" fill="#efbf1f" />
<rect x="201.11" y="225.82" width="3.20" height="63.98" fill="#cacad2" />
<rect x="201.11" y="236.83" width="3.20" height="52.97" fill="#e08c12" />
<rect x="201.11" y="265.93" width="3.20" height="23.87" fill="#1e3f80" />
<rect x="207.48" y="223.50" width="3.20" height="66.30" fill="#efbf1f" />
<rect x="207.48" y="227.21" width="3.20" height="62.59" fill="#cacad2" />
<rect x="207.48" y="237.82" width="3.20" height="51.98" fill="#e08c12" />
<rect x="207.48" y="263.28" width="3.20" height="26.52" fill="#1e3f80" />
<rect x="213.85" y="223.50" width="3.20" height="66.30" fill="#efbf1f" />
<rect x="213.85" y="228.34" width="3.20" height="61.46" fill="#cacad2" />
<rect x="213.85" y="236.56" width="3.20" height="53.24" fill="#e08c12" />
<rect x="213.85" y="257.31" width="3.20" height="32.49" fill="#1e3f80" />
<rect x="220.22" y="223.50" width="3.20" height="66.30" fill="#efbf1f" />
<rect x="220.22" y="230.79" width="3.20" height="59.01" fill="#cacad2" />
<rect x="220.22" y="237.82" width="3.20" height="51.98" fill="#e08c12" />
<rect x="220.22" y="258.64" width="3.20" height="31.16" fill="#1e3f80" />
<rect x="226.59" y="223.50" width="3.20" height="66.30" fill="#efbf1f" />
<rect x="226.59" y="231.26" width="3.20" height="58.54" fill="#cacad2" />
<rect x="226.59" y="239.01" width="3.20" height="50.79" fill="#e08c12" />
<rect x="226.59" y="259.97" width="3.20" height="29.83" fill="#1e3f80" />
<rect x="239.33" y="223.50" width="3.20" height="66.30" fill="#efbf1f" />
<rect x="239.33" y="236.56" width="3.20" height="53.24" fill="#cacad2" />
<rect x="239.33" y="241.07" width="3.20" height="48.73" fill="#e08c12" />
<rect x="239.33" y="258.57" width="3.20" height="31.23" fill="#1e3f80" />
<rect x="245.70" y="223.50" width="3.20" height="66.30" fill="#efbf1f" />
<rect x="245.70" y="232.52" width="3.20" height="57.28" fill="#cacad2" />
<rect x="245.70" y="241.53" width="3.20" height="48.27" fill="#e08c12" />
<rect x="245.70" y="263.08" width="3.20" height="26.72" fill="#1e3f80" />
<rect x="252.07" y="223.50" width="3.20" height="66.30" fill="#efbf1f" />
<rect x="252.07" y="236.30" width="3.20" height="53.50" fill="#cacad2" />
<rect x="252.07" y="244.65" width="3.20" height="45.15" fill="#e08c12" />
<rect x="252.07" y="265.80" width="3.20" height="24.00" fill="#1e3f80" />
<rect x="258.44" y="223.50" width="3.20" height="66.30" fill="#efbf1f" />
<rect x="258.44" y="237.75" width="3.20" height="52.05" fill="#cacad2" />
<rect x="258.44" y="245.45" width="3.20" height="44.35" fill="#e08c12" />
<rect x="258.44" y="259.90" width="3.20" height="29.90" fill="#1e3f80" />
<rect x="264.81" y="223.50" width="3.20" height="66.30" fill="#efbf1f" />
<rect x="264.81" y="236.56" width="3.20" height="53.24" fill="#cacad2" />
<rect x="264.81" y="243.12" width="3.20" height="46.68" fill="#e08c12" />
<rect x="264.81" y="259.17" width="3.20" height="30.63" fill="#1e3f80" />
<rect x="271.18" y="223.50" width="3.20" height="66.30" fill="#efbf1f" />
<rect x="271.18" y="237.75" width="3.20" height="52.05" fill="#cacad2" />
<rect x="271.18" y="246.44" width="3.20" height="43.36" fill="#e08c12" />
<rect x="271.18" y="263.08" width="3.20" height="26.72" fill="#1e3f80" />
<rect x="277.55" y="223.50" width="3.20" height="66.30" fill="#efbf1f" />
<rect x="277.55" y="239.35" width="3.20" height="50.45" fill="#cacad2" />
<rect x="277.55" y="247.04" width="3.20" height="42.76" fill="#e08c12" />
<rect x="277.55" y="260.43" width="3.20" height="29.37" fill="#1e3f80" />
<rect x="283.92" y="223.50" width="3.20" height="66.30" fill="#efbf1f" />
<rect x="283.92" y="238.55" width="3.20" height="51.25" fill="#cacad2" />
<rect x="283.92" y="246.04" width="3.20" height="43.76" fill="#e08c12" />
<rect x="283.92" y="255.32" width="3.20" height="34.48" fill="#1e3f80" />
<text x="183.60" y="297.00" transform="translate(183.60,0) scale(0.9091,1) translate(-183.60,0)" font-size="5.28" text-anchor="middle" fill="#222" stroke="#222" stroke-width="0.1" font-weight="normal" >1</text>
<text x="189.97" y="297.00" transform="translate(189.97,0) scale(0.9091,1) translate(-189.97,0)" font-size="5.28" text-anchor="middle" fill="#222" stroke="#222" stroke-width="0.1" font-weight="normal" >2</text>
<text x="196.34" y="297.00" transform="translate(196.34,0) scale(0.9091,1) translate(-196.34,0)" font-size="5.28" text-anchor="middle" fill="#222" stroke="#222" stroke-width="0.1" font-weight="normal" >3</text>
<text x="202.71" y="297.00" transform="translate(202.71,0) scale(0.9091,1) translate(-202.71,0)" font-size="5.28" text-anchor="middle" fill="#222" stroke="#222" stroke-width="0.1" font-weight="normal" >6</text>
<text x="209.08" y="297.00" transform="translate(209.08,0) scale(0.9091,1) translate(-209.08,0)" font-size="5.28" text-anchor="middle" fill="#222" stroke="#222" stroke-width="0.1" font-weight="normal" >9</text>
<text x="215.45" y="297.00" transform="translate(215.45,0) scale(0.9091,1) translate(-215.45,0)" font-size="5.28" text-anchor="middle" fill="#222" stroke="#222" stroke-width="0.1" font-weight="normal" >12</text>
<text x="221.82" y="297.00" transform="translate(221.82,0) scale(0.9091,1) translate(-221.82,0)" font-size="5.28" text-anchor="middle" fill="#222" stroke="#222" stroke-width="0.1" font-weight="normal" >18</text>
<text x="228.19" y="297.00" transform="translate(228.19,0) scale(0.9091,1) translate(-228.19,0)" font-size="5.28" text-anchor="middle" fill="#222" stroke="#222" stroke-width="0.1" font-weight="normal" >24</text>
<text x="240.93" y="297.00" transform="translate(240.93,0) scale(0.9091,1) translate(-240.93,0)" font-size="5.28" text-anchor="middle" fill="#222" stroke="#222" stroke-width="0.1" font-weight="normal" >1</text>
<text x="247.30" y="297.00" transform="translate(247.30,0) scale(0.9091,1) translate(-247.30,0)" font-size="5.28" text-anchor="middle" fill="#222" stroke="#222" stroke-width="0.1" font-weight="normal" >2</text>
<text x="253.67" y="297.00" transform="translate(253.67,0) scale(0.9091,1) translate(-253.67,0)" font-size="5.28" text-anchor="middle" fill="#222" stroke="#222" stroke-width="0.1" font-weight="normal" >3</text>
<text x="260.04" y="297.00" transform="translate(260.04,0) scale(0.9091,1) translate(-260.04,0)" font-size="5.28" text-anchor="middle" fill="#222" stroke="#222" stroke-width="0.1" font-weight="normal" >6</text>
<text x="266.41" y="297.00" transform="translate(266.41,0) scale(0.9091,1) translate(-266.41,0)" font-size="5.28" text-anchor="middle" fill="#222" stroke="#222" stroke-width="0.1" font-weight="normal" >9</text>
<text x="272.78" y="297.00" transform="translate(272.78,0) scale(0.9091,1) translate(-272.78,0)" font-size="5.28" text-anchor="middle" fill="#222" stroke="#222" stroke-width="0.1" font-weight="normal" >12</text>
<text x="279.15" y="297.00" transform="translate(279.15,0) scale(0.9091,1) translate(-279.15,0)" font-size="5.28" text-anchor="middle" fill="#222" stroke="#222" stroke-width="0.1" font-weight="normal" >18</text>
<text x="285.52" y="297.00" transform="translate(285.52,0) scale(0.9091,1) translate(-285.52,0)" font-size="5.28" text-anchor="middle" fill="#222" stroke="#222" stroke-width="0.1" font-weight="normal" >24</text>
<rect x="101.33" y="227.40" width="1.40" height="1.20" fill="#222" />
<rect x="103.73" y="227.40" width="1.40" height="1.20" fill="#222" />
<rect x="108.90" y="223.60" width="1.40" height="1.20" fill="#222" />
<rect x="108.90" y="226.70" width="1.40" height="1.20" fill="#222" />
<rect x="114.07" y="224.50" width="1.40" height="1.20" fill="#222" />
<rect x="116.47" y="224.50" width="1.40" height="1.20" fill="#222" />
<rect x="115.27" y="246.80" width="1.40" height="1.20" fill="#222" />
<rect x="115.27" y="278.50" width="1.40" height="1.20" fill="#222" />
<rect x="120.44" y="224.40" width="1.40" height="1.20" fill="#222" />
<rect x="122.84" y="224.40" width="1.40" height="1.20" fill="#222" />
<rect x="121.64" y="277.70" width="1.40" height="1.20" fill="#222" />
<rect x="126.81" y="224.10" width="1.40" height="1.20" fill="#222" />
<rect x="129.21" y="224.10" width="1.40" height="1.20" fill="#222" />
<rect x="133.18" y="224.60" width="1.40" height="1.20" fill="#222" />
<rect x="135.58" y="224.60" width="1.40" height="1.20" fill="#222" />
<rect x="139.55" y="224.90" width="1.40" height="1.20" fill="#222" />
<rect x="141.95" y="224.90" width="1.40" height="1.20" fill="#222" />
<rect x="140.75" y="246.30" width="1.40" height="1.20" fill="#222" />
<rect x="239.03" y="224.80" width="1.40" height="1.20" fill="#222" />
<rect x="241.43" y="224.80" width="1.40" height="1.20" fill="#222" />
<rect x="240.23" y="236.60" width="1.40" height="1.20" fill="#222" />
<rect x="239.03" y="248.00" width="1.40" height="1.20" fill="#222" />
<rect x="241.43" y="248.00" width="1.40" height="1.20" fill="#222" />
<rect x="240.23" y="279.40" width="1.40" height="1.20" fill="#222" />
<rect x="245.40" y="224.80" width="1.40" height="1.20" fill="#222" />
<rect x="247.80" y="224.80" width="1.40" height="1.20" fill="#222" />
<rect x="246.60" y="248.00" width="1.40" height="1.20" fill="#222" />
<rect x="251.77" y="224.80" width="1.40" height="1.20" fill="#222" />
<rect x="254.17" y="224.80" width="1.40" height="1.20" fill="#222" />
<rect x="258.14" y="224.80" width="1.40" height="1.20" fill="#222" />
<rect x="260.54" y="224.80" width="1.40" height="1.20" fill="#222" />
<rect x="258.14" y="251.20" width="1.40" height="1.20" fill="#222" />
<rect x="260.54" y="251.20" width="1.40" height="1.20" fill="#222" />
<rect x="259.34" y="276.40" width="1.40" height="1.20" fill="#222" />
<rect x="264.51" y="224.80" width="1.40" height="1.20" fill="#222" />
<rect x="266.91" y="224.80" width="1.40" height="1.20" fill="#222" />
<rect x="265.71" y="249.80" width="1.40" height="1.20" fill="#222" />
<rect x="270.88" y="224.80" width="1.40" height="1.20" fill="#222" />
<rect x="273.28" y="224.80" width="1.40" height="1.20" fill="#222" />
<rect x="277.25" y="224.80" width="1.40" height="1.20" fill="#222" />
<rect x="279.65" y="224.80" width="1.40" height="1.20" fill="#222" />
<text transform="translate(18.2,255) rotate(-90)" font-size="7.2" text-anchor="middle" fill="#222">%</text>
<rect x="119.50" y="309.20" width="3.50" height="3.40" fill="#1e3f80" />
<text x="126.50" y="312.30" transform="translate(126.50,0) scale(0.9091,1) translate(-126.50,0)" font-size="5.94" text-anchor="start" fill="#222" stroke="#222" stroke-width="0.1" font-weight="normal" >EM</text>
<rect x="144.30" y="309.20" width="3.50" height="3.40" fill="#e08c12" />
<text x="151.30" y="312.30" transform="translate(151.30,0) scale(0.9091,1) translate(-151.30,0)" font-size="5.94" text-anchor="start" fill="#222" stroke="#222" stroke-width="0.1" font-weight="normal" >CM</text>
<rect x="169.70" y="309.20" width="3.50" height="3.40" fill="#cacad2" />
<text x="176.70" y="312.30" transform="translate(176.70,0) scale(0.9091,1) translate(-176.70,0)" font-size="5.94" text-anchor="start" fill="#222" stroke="#222" stroke-width="0.1" font-weight="normal" >Naive</text>
<rect x="199.20" y="309.20" width="3.50" height="3.40" fill="#efbf1f" />
<text x="206.20" y="312.30" transform="translate(206.20,0) scale(0.9091,1) translate(-206.20,0)" font-size="5.94" text-anchor="start" fill="#222" stroke="#222" stroke-width="0.1" font-weight="normal" >TD</text>
<text x="307.40" y="182.30" transform="translate(307.40,0) scale(0.9091,1) translate(-307.40,0)" font-size="12.76" text-anchor="start" fill="#000" stroke="#000" stroke-width="0.1" font-weight="bold" >D</text>
<text x="351.70" y="180.20" transform="translate(351.70,0) scale(0.9091,1) translate(-351.70,0)" font-size="9.64" text-anchor="start" fill="#222" stroke="#222" stroke-width="0.1" font-weight="normal" >Reconstitution of B cell subsets</text>
<text x="370.00" y="190.80" transform="translate(370.00,0) scale(0.9091,1) translate(-370.00,0)" font-size="6.93" text-anchor="middle" fill="#222" stroke="#222" stroke-width="0.1" font-weight="normal" >Prior CIT</text>
<text x="451.20" y="190.80" transform="translate(451.20,0) scale(0.9091,1) translate(-451.20,0)" font-size="7.21" text-anchor="middle" fill="#222" stroke="#222" stroke-width="0.1" font-weight="normal" >Prior targeted therapy</text>
<line x1="333.50" y1="196.00" x2="333.50" y2="290.40" stroke="#000" stroke-width="1.2"/>
<line x1="333.50" y1="289.80" x2="489.70" y2="289.80" stroke="#000" stroke-width="1.3"/>
<line x1="331.00" y1="289.80" x2="333.50" y2="289.80" stroke="#000" stroke-width="1.0"/>
<text x="328.40" y="292.35" transform="translate(328.40,0) scale(0.9091,1) translate(-328.40,0)" font-size="7.92" text-anchor="end" fill="#222" stroke="#222" stroke-width="0.1" font-weight="normal" >0</text>
<line x1="331.00" y1="276.80" x2="333.50" y2="276.80" stroke="#000" stroke-width="1.0"/>
<text x="328.40" y="279.35" transform="translate(328.40,0) scale(0.9091,1) translate(-328.40,0)" font-size="7.92" text-anchor="end" fill="#222" stroke="#222" stroke-width="0.1" font-weight="normal" >10</text>
<line x1="331.00" y1="263.80" x2="333.50" y2="263.80" stroke="#000" stroke-width="1.0"/>
<text x="328.40" y="266.35" transform="translate(328.40,0) scale(0.9091,1) translate(-328.40,0)" font-size="7.92" text-anchor="end" fill="#222" stroke="#222" stroke-width="0.1" font-weight="normal" >20</text>
<line x1="331.00" y1="250.80" x2="333.50" y2="250.80" stroke="#000" stroke-width="1.0"/>
<text x="328.40" y="253.35" transform="translate(328.40,0) scale(0.9091,1) translate(-328.40,0)" font-size="7.92" text-anchor="end" fill="#222" stroke="#222" stroke-width="0.1" font-weight="normal" >30</text>
<line x1="331.00" y1="237.80" x2="333.50" y2="237.80" stroke="#000" stroke-width="1.0"/>
<text x="328.40" y="240.35" transform="translate(328.40,0) scale(0.9091,1) translate(-328.40,0)" font-size="7.92" text-anchor="end" fill="#222" stroke="#222" stroke-width="0.1" font-weight="normal" >40</text>
<line x1="331.00" y1="224.80" x2="333.50" y2="224.80" stroke="#000" stroke-width="1.0"/>
<text x="328.40" y="227.35" transform="translate(328.40,0) scale(0.9091,1) translate(-328.40,0)" font-size="7.92" text-anchor="end" fill="#222" stroke="#222" stroke-width="0.1" font-weight="normal" >50</text>
<line x1="331.00" y1="211.80" x2="333.50" y2="211.80" stroke="#000" stroke-width="1.0"/>
<text x="328.40" y="214.35" transform="translate(328.40,0) scale(0.9091,1) translate(-328.40,0)" font-size="7.92" text-anchor="end" fill="#222" stroke="#222" stroke-width="0.1" font-weight="normal" >60</text>
<line x1="331.00" y1="198.80" x2="333.50" y2="198.80" stroke="#000" stroke-width="1.0"/>
<text x="328.40" y="201.35" transform="translate(328.40,0) scale(0.9091,1) translate(-328.40,0)" font-size="7.92" text-anchor="end" fill="#222" stroke="#222" stroke-width="0.1" font-weight="normal" >70</text>
<text transform="translate(313.9,243.2) rotate(-90) scale(0.74,1)" font-size="8.6" text-anchor="middle" fill="#222">Cells/µL</text>
<text x="338.20" y="299.00" transform="translate(338.20,0) scale(0.9091,1) translate(-338.20,0)" font-size="7.04" text-anchor="middle" fill="#222" stroke="#222" stroke-width="0.1" font-weight="normal" >1</text>
<text x="347.20" y="299.00" transform="translate(347.20,0) scale(0.9091,1) translate(-347.20,0)" font-size="7.04" text-anchor="middle" fill="#222" stroke="#222" stroke-width="0.1" font-weight="normal" >2</text>
<text x="356.20" y="299.00" transform="translate(356.20,0) scale(0.9091,1) translate(-356.20,0)" font-size="7.04" text-anchor="middle" fill="#222" stroke="#222" stroke-width="0.1" font-weight="normal" >3</text>
<text x="365.20" y="299.00" transform="translate(365.20,0) scale(0.9091,1) translate(-365.20,0)" font-size="7.04" text-anchor="middle" fill="#222" stroke="#222" stroke-width="0.1" font-weight="normal" >6</text>
<text x="374.20" y="299.00" transform="translate(374.20,0) scale(0.9091,1) translate(-374.20,0)" font-size="7.04" text-anchor="middle" fill="#222" stroke="#222" stroke-width="0.1" font-weight="normal" >9</text>
<text x="383.20" y="299.00" transform="translate(383.20,0) scale(0.9091,1) translate(-383.20,0)" font-size="7.04" text-anchor="middle" fill="#222" stroke="#222" stroke-width="0.1" font-weight="normal" >12</text>
<text x="392.20" y="299.00" transform="translate(392.20,0) scale(0.9091,1) translate(-392.20,0)" font-size="7.04" text-anchor="middle" fill="#222" stroke="#222" stroke-width="0.1" font-weight="normal" >18</text>
<text x="401.20" y="299.00" transform="translate(401.20,0) scale(0.9091,1) translate(-401.20,0)" font-size="7.04" text-anchor="middle" fill="#222" stroke="#222" stroke-width="0.1" font-weight="normal" >24</text>
<text x="419.20" y="299.00" transform="translate(419.20,0) scale(0.9091,1) translate(-419.20,0)" font-size="7.04" text-anchor="middle" fill="#222" stroke="#222" stroke-width="0.1" font-weight="normal" >1</text>
<text x="428.20" y="299.00" transform="translate(428.20,0) scale(0.9091,1) translate(-428.20,0)" font-size="7.04" text-anchor="middle" fill="#222" stroke="#222" stroke-width="0.1" font-weight="normal" >2</text>
<text x="437.20" y="299.00" transform="translate(437.20,0) scale(0.9091,1) translate(-437.20,0)" font-size="7.04" text-anchor="middle" fill="#222" stroke="#222" stroke-width="0.1" font-weight="normal" >3</text>
<text x="446.20" y="299.00" transform="translate(446.20,0) scale(0.9091,1) translate(-446.20,0)" font-size="7.04" text-anchor="middle" fill="#222" stroke="#222" stroke-width="0.1" font-weight="normal" >6</text>
<text x="455.20" y="299.00" transform="translate(455.20,0) scale(0.9091,1) translate(-455.20,0)" font-size="7.04" text-anchor="middle" fill="#222" stroke="#222" stroke-width="0.1" font-weight="normal" >9</text>
<text x="464.20" y="299.00" transform="translate(464.20,0) scale(0.9091,1) translate(-464.20,0)" font-size="7.04" text-anchor="middle" fill="#222" stroke="#222" stroke-width="0.1" font-weight="normal" >12</text>
<text x="473.20" y="299.00" transform="translate(473.20,0) scale(0.9091,1) translate(-473.20,0)" font-size="7.04" text-anchor="middle" fill="#222" stroke="#222" stroke-width="0.1" font-weight="normal" >18</text>
<text x="482.20" y="299.00" transform="translate(482.20,0) scale(0.9091,1) translate(-482.20,0)" font-size="7.04" text-anchor="middle" fill="#222" stroke="#222" stroke-width="0.1" font-weight="normal" >24</text>
<rect x="370.50" y="288.50" width="2.10" height="1.30" fill="#1e3f80" />
<rect x="379.50" y="285.90" width="2.10" height="3.90" fill="#1e3f80" />
<rect x="388.50" y="284.60" width="2.10" height="5.20" fill="#1e3f80" />
<rect x="397.50" y="266.40" width="2.10" height="23.40" fill="#1e3f80" />
<rect x="400.30" y="263.80" width="2.10" height="26.00" fill="#e08c12" />
<rect x="403.20" y="287.20" width="1.80" height="2.60" fill="#c5c6d6" />
<rect x="415.50" y="284.60" width="2.10" height="5.20" fill="#1e3f80" />
<rect x="424.50" y="284.60" width="2.10" height="5.20" fill="#1e3f80" />
<rect x="427.30" y="288.50" width="2.10" height="1.30" fill="#e08c12" />
<rect x="433.50" y="280.70" width="2.10" height="9.10" fill="#1e3f80" />
<rect x="436.30" y="283.30" width="2.10" height="6.50" fill="#e08c12" />
<rect x="439.20" y="288.50" width="1.80" height="1.30" fill="#c5c6d6" />
<rect x="442.50" y="246.90" width="2.10" height="42.90" fill="#1e3f80" />
<rect x="445.30" y="262.50" width="2.10" height="27.30" fill="#e08c12" />
<rect x="448.20" y="285.90" width="1.80" height="3.90" fill="#c5c6d6" />
<rect x="451.50" y="244.30" width="2.10" height="45.50" fill="#1e3f80" />
<rect x="454.30" y="252.10" width="2.10" height="37.70" fill="#e08c12" />
<rect x="460.50" y="261.20" width="2.10" height="28.60" fill="#1e3f80" />
<rect x="463.30" y="266.40" width="2.10" height="23.40" fill="#e08c12" />
<rect x="466.20" y="283.30" width="1.80" height="6.50" fill="#c5c6d6" />
<rect x="469.50" y="269.00" width="2.10" height="20.80" fill="#1e3f80" />
<rect x="472.30" y="280.70" width="2.10" height="9.10" fill="#e08c12" />
<rect x="478.50" y="206.60" width="2.10" height="83.20" fill="#1e3f80" />
<rect x="481.30" y="259.90" width="2.10" height="29.90" fill="#e08c12" />
<rect x="484.20" y="275.50" width="1.80" height="14.30" fill="#c5c6d6" />
<rect x="329.80" y="311.50" width="3.30" height="3.30" fill="#1e3f80" />
<text x="336.20" y="315.20" transform="translate(336.20,0) scale(0.9091,1) translate(-336.20,0)" font-size="6.09" text-anchor="start" fill="#222" stroke="#222" stroke-width="0.1" font-weight="normal" >CD19+CD5- (normal B cell)</text>
<rect x="410.80" y="311.50" width="3.30" height="3.30" fill="#e08c12" />
<text x="417.40" y="315.20" transform="translate(417.40,0) scale(0.9091,1) translate(-417.40,0)" font-size="6.09" text-anchor="start" fill="#222" stroke="#222" stroke-width="0.1" font-weight="normal" >CD19+CD5-27- (Antigen naive)</text>
<rect x="329.80" y="319.20" width="3.30" height="3.30" fill="#c5c6d6" />
<text x="336.20" y="323.00" transform="translate(336.20,0) scale(0.9091,1) translate(-336.20,0)" font-size="6.09" text-anchor="start" fill="#222" stroke="#222" stroke-width="0.1" font-weight="normal" >CD19+CD5-27+ (Antigen experienced)</text>
</svg></div>
</body></html>
